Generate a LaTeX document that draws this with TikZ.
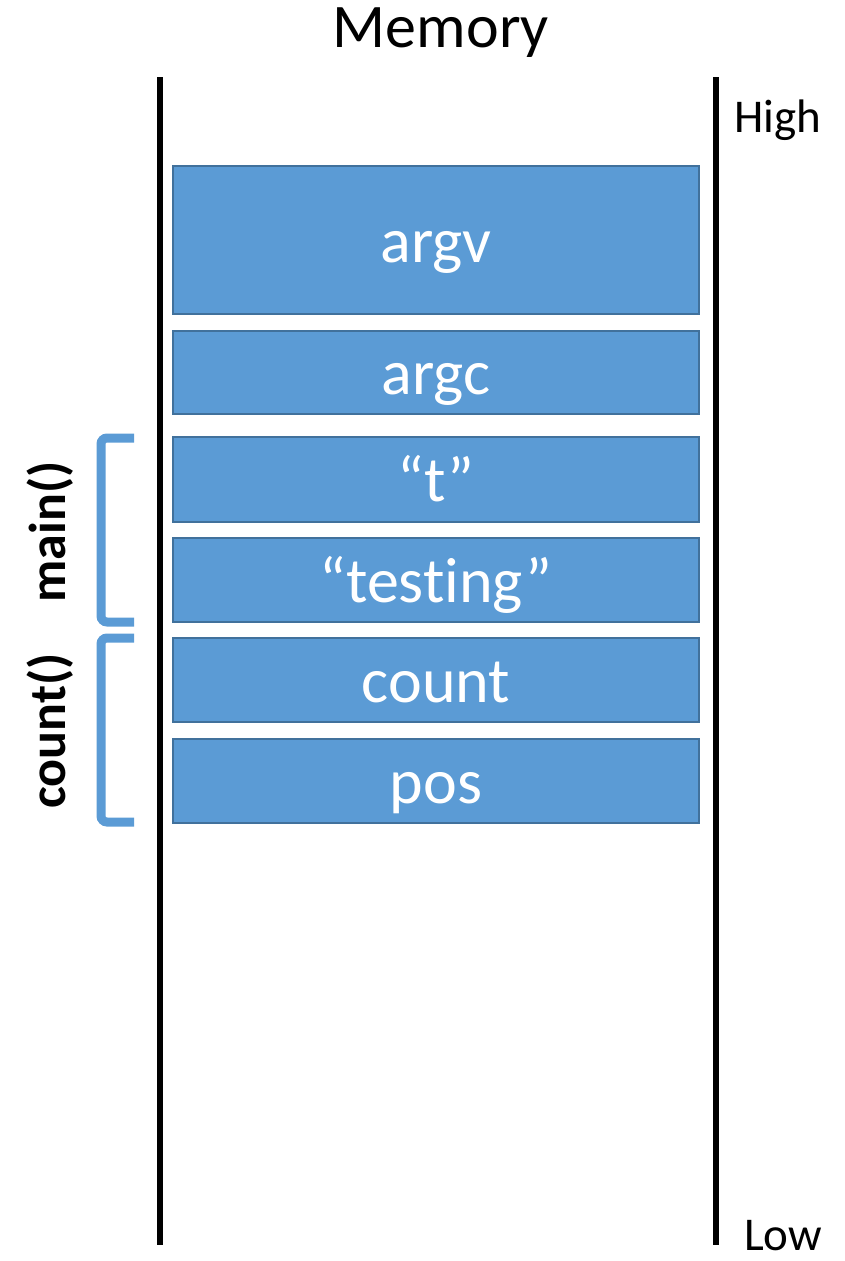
\documentclass[tikz,border=0pt]{standalone}
\usepackage{fontspec}
\setmainfont{Carlito}[Ligatures=NoCommon]
\usetikzlibrary{positioning}

\definecolor{cellblue}{HTML}{5B9BD5}
\definecolor{celledge}{HTML}{41719C}

\begin{document}
\begin{tikzpicture}[x=1pt, y=-1pt,
   cell/.style={rectangle, draw=celledge, line width=2pt, fill=cellblue, text=white,
                minimum width=526pt, inner sep=0pt, text height=44pt, text depth=0pt,
                font=\fontsize{64}{68}\selectfont},
   wall/.style={line width=6pt, black},
   brace/.style={line width=9pt, cellblue, rounded corners=6pt},
   side/.style={font=\fontsize{52}{56}\selectfont\bfseries, rotate=90, anchor=base},
   endlabel/.style={font=\fontsize{47}{50}\selectfont, anchor=base west}]
  \useasboundingbox (0,0) rectangle (844,1261);
  % walls of the memory column
  \coordinate (lt) at (160,77);
  \coordinate (lb) at (160,1245);
  \coordinate (rt) at (716,77);
  \coordinate (rb) at (716,1245);
  \draw[wall] (lt) -- (lb);
  \draw[wall] (rt) -- (rb);
  \node[font=\fontsize{62}{66}\selectfont, anchor=base] (title) at (441,47) {Memory};
  \node[endlabel] (high) at (731,132) {High};
  \node[endlabel, inner sep=1pt] (low) at (743,1250) {Low};
  % stack cells
  \node[cell, minimum height=148pt] (argv)    at (436,240) {argv};
  \node[cell, minimum height=83pt]  (argc)    at (436,372.5) {argc};
  \node[cell, minimum height=85pt]  (t)       at (436,479.5) {“t”};
  \node[cell, minimum height=84pt]  (testing) at (436,580) {“testing”};
  \node[cell, minimum height=84pt]  (count)   at (436,680) {count};
  \node[cell, minimum height=84pt]  (pos)     at (436,781) {pos};
  % frames
  \draw[brace] (134,438) -- (101,438) -- (101,622) -- (134,622);
  \draw[brace] (134,638) -- (101,638) -- (101,822) -- (134,822);
  \node[side] (main)   at (65,532) {main()};
  \node[side] (countf) at (65,731) {count()};
\end{tikzpicture}
\end{document}
